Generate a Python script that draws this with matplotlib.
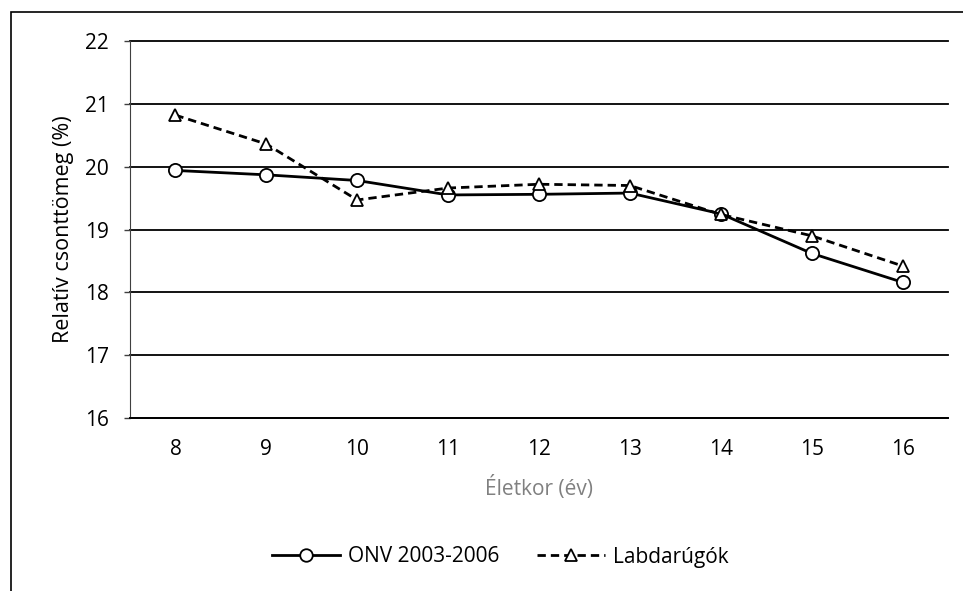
import matplotlib
matplotlib.use("Agg")
import matplotlib.pyplot as plt
from matplotlib.patches import Rectangle

plt.rcParams['font.family'] = ['Open Sans', 'DejaVu Sans']

ages = [8, 9, 10, 11, 12, 13, 14, 15, 16]
onv = [19.94, 19.87, 19.78, 19.55, 19.56, 19.58, 19.25, 18.62, 18.16]
labdarugok = [20.82, 20.36, 19.47, 19.66, 19.72, 19.70, 19.24, 18.90, 18.42]
yticks = [16, 17, 18, 19, 20, 21, 22]

fig = plt.figure(figsize=(9.63, 5.91), dpi=100)
ax = fig.add_axes([130 / 963, 1 - 418 / 591, 818 / 963, 377 / 591])

x = list(range(len(ages)))
ax.plot(x, onv, color='black', lw=2, marker='o', ms=9.5,
        mfc='white', mec='black', mew=1.3, label='ONV 2003-2006', zorder=3)
ax.plot(x, labdarugok, color='black', lw=2, ls=(0, (3, 1.8)), marker='^', ms=9,
        mfc='white', mec='black', mew=1.3, label='Labdarúgók', zorder=4)

ax.set_xlim(-0.5, len(ages) - 0.5)
ax.set_ylim(16, 22)
ax.set_yticks(yticks)
ax.set_xticks(x)
ax.set_xticklabels([str(a) for a in ages])
ax.yaxis.grid(True, color='black', lw=1.3)
for gl in ax.get_ygridlines():
    gl.set_clip_on(False)
ax.set_axisbelow(True)
for s in ['top', 'right']:
    ax.spines[s].set_visible(False)
ax.spines['left'].set_color('#404040')
ax.spines['bottom'].set_color('black')
ax.spines['bottom'].set_linewidth(1.3)
ax.tick_params(axis='y', length=4, width=1, color='#404040', labelsize=15, pad=11)
ax.tick_params(axis='x', length=0, labelsize=15, pad=15)

ax.set_ylabel('Relatív csonttömeg (%)', fontsize=15.5, labelpad=8)
ax.set_xlabel('Életkor (év)', fontsize=15, color='#808080', labelpad=12)

ax.legend(loc='center', bbox_to_anchor=(500 / 963, 1 - 557 / 591),
          bbox_transform=fig.transFigure, ncol=2, frameon=False,
          handlelength=3.3, handletextpad=0.35, fontsize=15, columnspacing=1.8,
          markerscale=0.95)

fig.patches.append(Rectangle((11 / 963, -0.05), 1.2, 1 - 12 / 591 + 0.05,
                             transform=fig.transFigure, fill=False,
                             edgecolor='black', lw=1.2))

fig.savefig('out.png', dpi=100)
